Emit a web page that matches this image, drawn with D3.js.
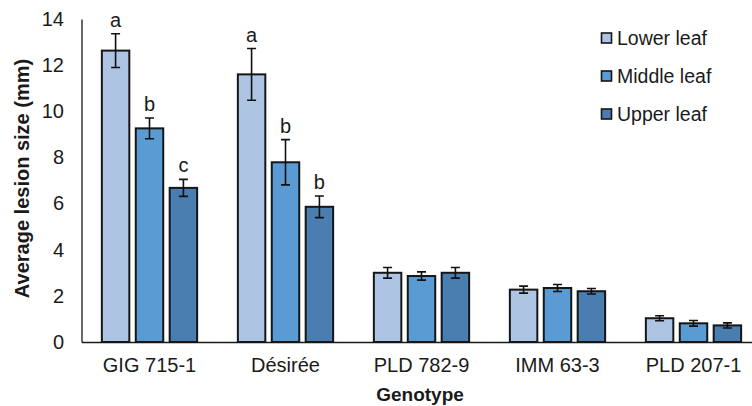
<!DOCTYPE html>
<html>
<head>
<meta charset="utf-8">
<script src="https://cdn.jsdelivr.net/npm/d3@7"></script>
<style>
  body { margin: 0; background: #fff; }
  svg { display: block; font-family: "Liberation Sans", Arial, sans-serif; }
  .axis text { font-size: 20px; fill: #1a1a1a; }
  .axis path { stroke: #1a1a1a; stroke-width: 1.3; }
</style>
</head>
<body>
<div id="chart"></div>
<script>
// chart data
var genotypes = ["GIG 715-1", "Désirée", "PLD 782-9", "IMM 63-3", "PLD 207-1"];
var seriesNames = ["Lower leaf", "Middle leaf", "Upper leaf"];
var lowerLeaf  = [12.63, 11.60, 3.00, 2.27, 1.03];
var middleLeaf = [9.26, 7.79, 2.86, 2.34, 0.81];
var upperLeaf  = [6.68, 5.86, 3.00, 2.20, 0.72];
var lowerErr   = [0.73, 1.12, 0.23, 0.15, 0.11];
var middleErr  = [0.45, 0.98, 0.18, 0.15, 0.12];
var upperErr   = [0.37, 0.47, 0.23, 0.12, 0.11];
var lowerLetters  = ["a", "a", "", "", ""];
var middleLetters = ["b", "b", "", "", ""];
var upperLetters  = ["c", "b", "", "", ""];
var yTicks = [0, 2, 4, 6, 8, 10, 12, 14];

var colors = ["#adc5e3", "#5b9bd4", "#4a7eb0"];

var width = 752, height = 406;
var plotLeft = 81.5, plotTop = 19, plotBottom = 342;

var svg = d3.select("#chart").append("svg")
    .attr("width", width)
    .attr("height", height);

var x0 = d3.scaleBand().domain(genotypes).range([plotLeft, plotLeft + 5 * 136]);
var x1 = d3.scaleBand().domain(seriesNames).range([0, x0.bandwidth()])
    .paddingInner(0.19).paddingOuter(0.6);
var y = d3.scaleLinear().domain([0, 14]).range([plotBottom, plotTop]);

// build rows for drawing
var values = [lowerLeaf, middleLeaf, upperLeaf];
var errs = [lowerErr, middleErr, upperErr];
var letters = [lowerLetters, middleLetters, upperLetters];
var rows = [];
genotypes.forEach(function(g, i) {
  seriesNames.forEach(function(s, j) {
    rows.push({g: g, s: s, j: j, v: values[j][i], e: errs[j][i], l: letters[j][i]});
  });
});

// axes
var yAxis = d3.axisLeft(y).tickValues(yTicks).tickSize(0).tickPadding(17.5);
svg.append("g").attr("class", "axis")
    .attr("transform", "translate(" + plotLeft + ",0)")
    .call(yAxis);

var xAxis = d3.axisBottom(x0).tickSize(0).tickPadding(16);
svg.append("g").attr("class", "axis")
    .attr("transform", "translate(0," + plotBottom + ")")
    .call(xAxis);

// bars
var bars = svg.append("g");
bars.selectAll("rect").data(rows).enter().append("rect")
    .attr("x", function(d) { return x0(d.g) + x1(d.s); })
    .attr("y", function(d) { return y(d.v); })
    .attr("width", x1.bandwidth())
    .attr("height", function(d) { return y(0) - y(d.v); })
    .attr("fill", function(d) { return colors[d.j]; })
    .attr("stroke", "#161616")
    .attr("stroke-width", 2);

// error bars
var cap = 4.5;
var eb = svg.append("g").attr("stroke", "#111").attr("stroke-width", 1.6).attr("fill", "none");
eb.selectAll("path").data(rows).enter().append("path")
    .attr("d", function(d) {
      var cx = x0(d.g) + x1(d.s) + x1.bandwidth() / 2;
      var t = y(d.v + d.e), b = y(d.v - d.e);
      return "M" + (cx - cap) + "," + t + "H" + (cx + cap) +
             "M" + cx + "," + t + "V" + b +
             "M" + (cx - cap) + "," + b + "H" + (cx + cap);
    });

// significance letters
svg.append("g").selectAll("text").data(rows.filter(function(d) { return d.l; })).enter().append("text")
    .attr("x", function(d) { return x0(d.g) + x1(d.s) + x1.bandwidth() / 2; })
    .attr("y", function(d) { return y(d.v + d.e) - 7; })
    .attr("text-anchor", "middle")
    .attr("font-size", 20)
    .attr("fill", "#1a1a1a")
    .text(function(d) { return d.l; });

// axis titles
svg.append("text")
    .attr("transform", "translate(29,178.5) rotate(-90)")
    .attr("text-anchor", "middle")
    .attr("font-size", 20)
    .attr("font-weight", "bold")
    .attr("fill", "#1a1a1a")
    .text("Average lesion size (mm)");

svg.append("text")
    .attr("x", 420)
    .attr("y", 401)
    .attr("text-anchor", "middle")
    .attr("font-size", 19)
    .attr("font-weight", "bold")
    .attr("fill", "#1a1a1a")
    .text("Genotype");

// legend
var legend = svg.append("g").attr("transform", "translate(601,38)");
var item = legend.selectAll("g").data(seriesNames).enter().append("g")
    .attr("transform", function(d, i) { return "translate(0," + (i * 38) + ")"; });
item.append("rect")
    .attr("x", 0.5).attr("y", -5)
    .attr("width", 10).attr("height", 10)
    .attr("fill", function(d, i) { return colors[i]; })
    .attr("stroke", "#161616")
    .attr("stroke-width", 1.6);
item.append("text")
    .attr("x", 16)
    .attr("dy", "0.35em")
    .attr("font-size", 19.5)
    .attr("fill", "#1a1a1a")
    .text(function(d) { return d; });
</script>
</body>
</html>
